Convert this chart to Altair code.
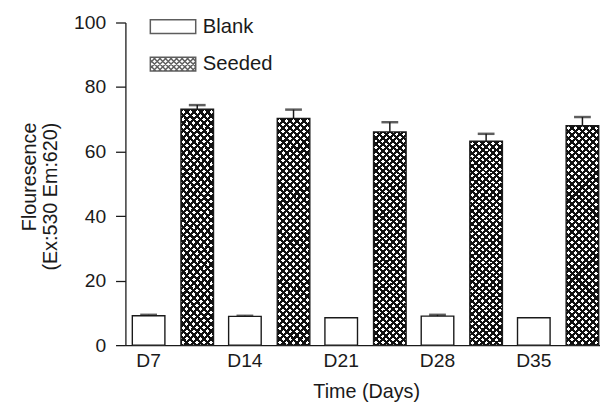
import altair as alt
import pandas as pd

# ---- data ----
days = ["D7", "D14", "D21", "D28", "D35"]
series_names = ["Blank", "Seeded"]
blank_values = [9.1, 8.9, 8.5, 9.0, 8.5]
blank_errors = [0.3, 0.2, 0.0, 0.4, 0.0]
seeded_values = [73.1, 70.3, 66.1, 63.2, 68.0]
seeded_errors = [1.3, 2.7, 3.0, 2.3, 2.7]
y_tick_values = [0, 20, 40, 60, 80, 100]

rows = []
for d, v, e in zip(days, blank_values, blank_errors):
    rows.append({"day": d, "series": "Blank", "value": v, "err": e, "top": v + e})
for d, v, e in zip(days, seeded_values, seeded_errors):
    rows.append({"day": d, "series": "Seeded", "value": v, "err": e, "top": v + e})
df = pd.DataFrame(rows)

FONT = "Liberation Sans"
INK = "#1a1a1a"


# ---- crosshatch styling (gradient stripes, two directions) ----
def hatch_gradient(flip):
    w, h = 33.0, 222.0
    k = h / w
    a = (1 + k) / (1 + k * k)
    b = a * k
    span = w * (1 + k)
    pitch, frac = 7.0, 0.44
    dt = pitch / span
    stops = []
    i = 0
    while i * dt < 1:
        t0 = round(i * dt, 5)
        t1 = round(min(i * dt + frac * dt, 1), 5)
        t2 = round(min(i * dt + dt, 1), 5)
        stops += [
            {"offset": t0, "color": "#111111"},
            {"offset": t1, "color": "#111111"},
            {"offset": t1, "color": "rgba(255,255,255,0)"},
            {"offset": t2, "color": "rgba(255,255,255,0)"},
        ]
        i += 1
    if flip:
        return {"gradient": "linear", "x1": 1, "y1": 0, "x2": 1 - a, "y2": b, "stops": stops}
    return {"gradient": "linear", "x1": 0, "y1": 0, "x2": a, "y2": b, "stops": stops}


# ---- legend symbol shapes ----
R = 7.0
W = 23.0 / R
blank_shape = f"M{-W:.3f},-1H{W:.3f}V1H{-W:.3f}Z"
segs = []
p = 0.8
c = -W - 1
while c <= W + 1:
    lo, hi = max(-1, c - W), min(1, c + W)
    if hi - lo > 1e-6:
        segs.append(f"M{c - lo:.3f},{lo:.3f}L{c - hi:.3f},{hi:.3f}")
    lo2, hi2 = max(-1, -W - c), min(1, W - c)
    if hi2 - lo2 > 1e-6:
        segs.append(f"M{c + lo2:.3f},{lo2:.3f}L{c + hi2:.3f},{hi2:.3f}")
    c += p
seeded_shape = blank_shape + "".join(segs)

# ---- encodings ----
x_axis = alt.Axis(
    title="Time (Days)", labelAngle=0, ticks=False, labelPadding=7, labelOffset=-25.3,
    labelFontSize=19.5, titleFontSize=20, titlePadding=12, titleFontWeight="normal",
    domainColor=INK, domainWidth=1.3, labelColor=INK, titleColor=INK,
)
x_enc = alt.X("day:N", scale=alt.Scale(domain=days, range=[0, 488], paddingInner=0, paddingOuter=0), axis=x_axis)
xo_enc = alt.XOffset("series:N", scale=alt.Scale(domain=series_names, range=[7, 89.3], paddingInner=0.33, paddingOuter=0))
y_axis = alt.Axis(
    values=y_tick_values, title=["Flouresence", "(Ex:530 Em:620)"], grid=False,
    tickSize=10, tickColor=INK, tickWidth=1.3, labelPadding=10, labelFontSize=19.5,
    titleFontSize=20, titleFontWeight="normal", titleLineHeight=22, titlePadding=13,
    titleAlign="right", titleY=101,
    domainColor=INK, domainWidth=1.3, labelColor=INK, titleColor=INK,
)
y_scale = alt.Scale(domain=[0, 100], nice=False)

base = alt.Chart(df)

bars_white = base.mark_bar(fill="white", strokeWidth=0).encode(
    x=x_enc, xOffset=xo_enc, y=alt.Y("value:Q", scale=y_scale, axis=y_axis)
)
seeded = base.transform_filter(alt.datum.series == "Seeded")
hatch_a = seeded.mark_bar(fill=hatch_gradient(False), strokeWidth=0).encode(
    x=x_enc, xOffset=xo_enc, y=alt.Y("value:Q", scale=y_scale, axis=y_axis)
)
hatch_b = seeded.mark_bar(fill=hatch_gradient(True), strokeWidth=0).encode(
    x=x_enc, xOffset=xo_enc, y=alt.Y("value:Q", scale=y_scale, axis=y_axis)
)
outline = base.mark_bar(fill="white", fillOpacity=0, stroke=INK, strokeWidth=1.4).encode(
    x=x_enc, xOffset=xo_enc, y=alt.Y("value:Q", scale=y_scale, axis=y_axis)
)
errs = base.transform_filter(alt.datum.err > 0)
err_rule = errs.mark_rule(color=INK, strokeWidth=1.5).encode(
    x=x_enc, xOffset=xo_enc, y=alt.Y("value:Q", scale=y_scale, axis=y_axis), y2="top:Q"
)
err_cap = errs.mark_tick(color=INK, size=17, thickness=2.5, orient="horizontal").encode(
    x=x_enc, xOffset=xo_enc, y=alt.Y("top:Q", scale=y_scale, axis=y_axis)
)
# legend-only layer: no rows reach the marks, the legend comes from the shape scale domain
legend_pts = base.transform_filter("false").mark_point(
    filled=True, fill="white", stroke=INK, strokeWidth=1.8, size=196
).encode(
    x=x_enc, xOffset=xo_enc, y=alt.Y("value:Q", scale=y_scale, axis=y_axis),
    shape=alt.Shape(
        "series:N",
        scale=alt.Scale(domain=series_names, range=[blank_shape, seeded_shape]),
        legend=alt.Legend(
            title=None, orient="none", legendX=38, legendY=-6, symbolSize=196,
            labelFontSize=20.5, labelColor=INK, labelOffset=20, rowPadding=17,
        ),
    ),
)

chart = alt.layer(bars_white, hatch_a, hatch_b, outline, err_rule, err_cap, legend_pts).properties(
    width=481, height=327,
    padding={"left": 119, "top": 12, "right": 0, "bottom": 61},
    autosize=alt.AutoSizeParams(type="none"),
).configure(font=FONT).configure_view(stroke="transparent").configure_axis(
    labelFont=FONT, titleFont=FONT
).configure_legend(labelFont=FONT)

chart.save("out.html", embed_options={"renderer": "svg", "actions": False})
